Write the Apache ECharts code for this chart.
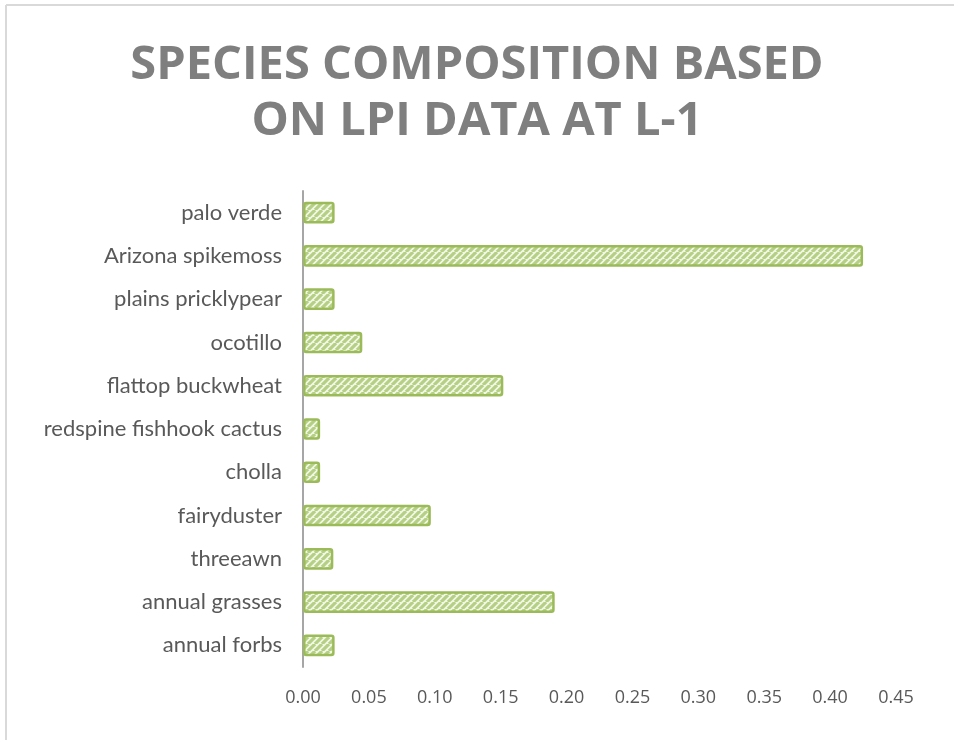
<!DOCTYPE html>
<html>
<head>
<meta charset="utf-8">
<script src="https://cdn.jsdelivr.net/npm/echarts@6/dist/echarts.min.js"></script>
<style>html,body{margin:0;padding:0;background:#fff}#c{width:954px;height:740px}</style>
</head>
<body>
<div id="c"></div>
<script>
const categories = ['annual forbs','annual grasses','threeawn','fairyduster','cholla','redspine fishhook cactus','flattop buckwheat','ocotillo','plains pricklypear','Arizona spikemoss','palo verde'];
const values = [0.024, 0.191, 0.023, 0.097, 0.013, 0.013, 0.152, 0.045, 0.024, 0.425, 0.024];
const tickMin = 0, tickMax = 0.45, tickStep = 0.05;
const titleText = 'SPECIES COMPOSITION BASED\nON LPI DATA AT L-1';

function hatch() {
  const s = 7;
  const cv = document.createElement('canvas');
  cv.width = s; cv.height = s;
  const g = cv.getContext('2d');
  g.fillStyle = '#f1f7e6';
  g.fillRect(0, 0, s, s);
  g.strokeStyle = '#b5cf84';
  g.lineWidth = 3.2;
  g.beginPath();
  for (let k = -s; k <= 2 * s; k += s) {
    g.moveTo(k, s); g.lineTo(k + s, 0);
  }
  g.stroke();
  return cv;
}

const chart = echarts.init(document.getElementById('c'), null, {renderer: 'canvas'});
chart.setOption({
  animation: false,
  backgroundColor: '#ffffff',
  title: {
    text: titleText,
    left: 'center',
    top: 33,
    textStyle: {
      fontFamily: 'Open Sans',
      fontWeight: 'bold',
      fontSize: 47,
      lineHeight: 56,
      color: '#7f7f7f'
    }
  },
  graphic: [
    {type: 'line', shape: {x1: 6, y1: 5, x2: 6, y2: 740}, style: {stroke: '#d9d9d9', lineWidth: 2}},
    {type: 'line', shape: {x1: 6, y1: 5, x2: 954, y2: 5}, style: {stroke: '#d9d9d9', lineWidth: 2}}
  ],
  grid: {left: 303, right: 58, top: 191, bottom: 73, containLabel: false},
  xAxis: {
    type: 'value',
    min: tickMin, max: tickMax, interval: tickStep,
    axisLine: {show: false},
    axisTick: {show: false},
    splitLine: {show: false},
    axisLabel: {
      formatter: v => v.toFixed(2),
      color: '#595959',
      fontFamily: 'Open Sans',
      fontSize: 18,
      margin: 22
    }
  },
  yAxis: {
    type: 'category',
    data: categories,
    axisLine: {show: true, lineStyle: {color: '#a6a6a6', width: 2}},
    axisTick: {show: false},
    axisLabel: {
      color: '#595959',
      fontFamily: 'Lato',
      fontSize: 22,
      margin: 21
    }
  },
  series: [{
    type: 'bar',
    data: values,
    barWidth: '50%',
    itemStyle: {
      color: {image: hatch(), repeat: 'repeat'},
      borderColor: '#9bbb59',
      borderWidth: 2.5,
      borderRadius: 2
    }
  }]
});
</script>
</body>
</html>
